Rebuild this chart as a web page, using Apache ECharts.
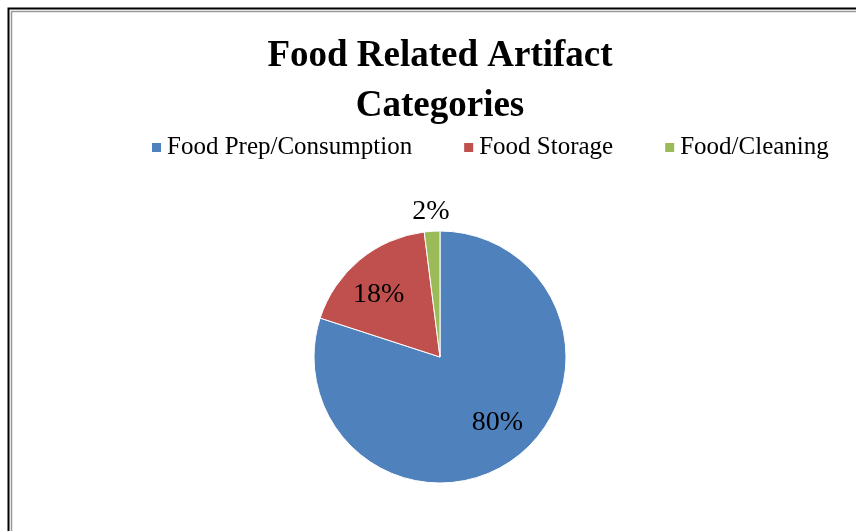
<!DOCTYPE html>
<html>
<head>
<meta charset="utf-8">
<script src="https://cdn.jsdelivr.net/npm/echarts@6/dist/echarts.min.js"></script>
<style>
  html, body { margin: 0; padding: 0; background: #fff; }
  #main { width: 856px; height: 531px; }
</style>
</head>
<body>
<div id="main"></div>
<script>
const categories = ['Food Prep/Consumption', 'Food Storage', 'Food/Cleaning'];
const values = [80, 18, 2];
const colors = ['#4F81BD', '#C0504D', '#9BBB59'];
// which slices get their label inside the pie, which just outside the rim
const insideLabel = [true, true, false];

const pieData = categories.map((name, i) => ({
  name: name,
  value: values[i],
  itemStyle: { color: colors[i] }
}));

// label-only rings, so labels sit where Excel put them
const innerLabels = categories.map((name, i) => ({
  name: name,
  value: values[i],
  label: { show: insideLabel[i] }
}));
const outerLabels = categories.map((name, i) => ({
  name: name,
  value: values[i],
  label: { show: !insideLabel[i] }
}));

const labelStyle = {
  position: 'inside',
  formatter: '{d}%',
  fontFamily: 'Liberation Serif',
  fontSize: 28,
  color: '#000'
};

const myChart = echarts.init(document.getElementById('main'));
myChart.setOption({
  backgroundColor: '#fff',
  animation: false,
  textStyle: { fontFamily: 'Liberation Serif' },
  title: {
    text: 'Food Related Artifact\nCategories',
    left: 435,
    textAlign: 'center',
    top: 26,
    textStyle: {
      fontFamily: 'Liberation Serif',
      fontWeight: 'bold',
      fontSize: 37,
      lineHeight: 50,
      color: '#000'
    }
  },
  legend: {
    data: categories,
    left: 145,
    top: 130,
    icon: 'rect',
    itemWidth: 11,
    itemHeight: 11,
    itemGap: 50,
    textStyle: { fontFamily: 'Liberation Serif', fontSize: 25, color: '#000' }
  },
  graphic: [
    {
      type: 'rect',
      shape: { x: 8.5, y: 8.5, width: 900, height: 600 },
      style: { fill: null, stroke: '#000', lineWidth: 2 },
      silent: true
    },
    {
      type: 'rect',
      shape: { x: 11.5, y: 11.5, width: 900, height: 600 },
      style: { fill: null, stroke: '#999', lineWidth: 1.5 },
      silent: true
    }
  ],
  series: [
    {
      type: 'pie',
      center: [440, 357],
      radius: [0, 126],
      startAngle: 90,
      clockwise: true,
      label: { show: false },
      labelLine: { show: false },
      itemStyle: { borderColor: '#fff', borderWidth: 1 },
      emphasis: { disabled: true },
      data: pieData
    },
    {
      type: 'pie',
      center: [440, 357],
      radius: [43, 126],
      startAngle: 95,
      silent: true,
      itemStyle: { color: 'rgba(0,0,0,0)' },
      label: labelStyle,
      labelLine: { show: false },
      emphasis: { disabled: true },
      data: innerLabels
    },
    {
      type: 'pie',
      center: [440, 357],
      radius: [133, 153],
      startAngle: 90,
      silent: true,
      itemStyle: { color: 'rgba(0,0,0,0)' },
      label: labelStyle,
      labelLine: { show: false },
      emphasis: { disabled: true },
      data: outerLabels
    }
  ]
});
</script>
</body>
</html>
